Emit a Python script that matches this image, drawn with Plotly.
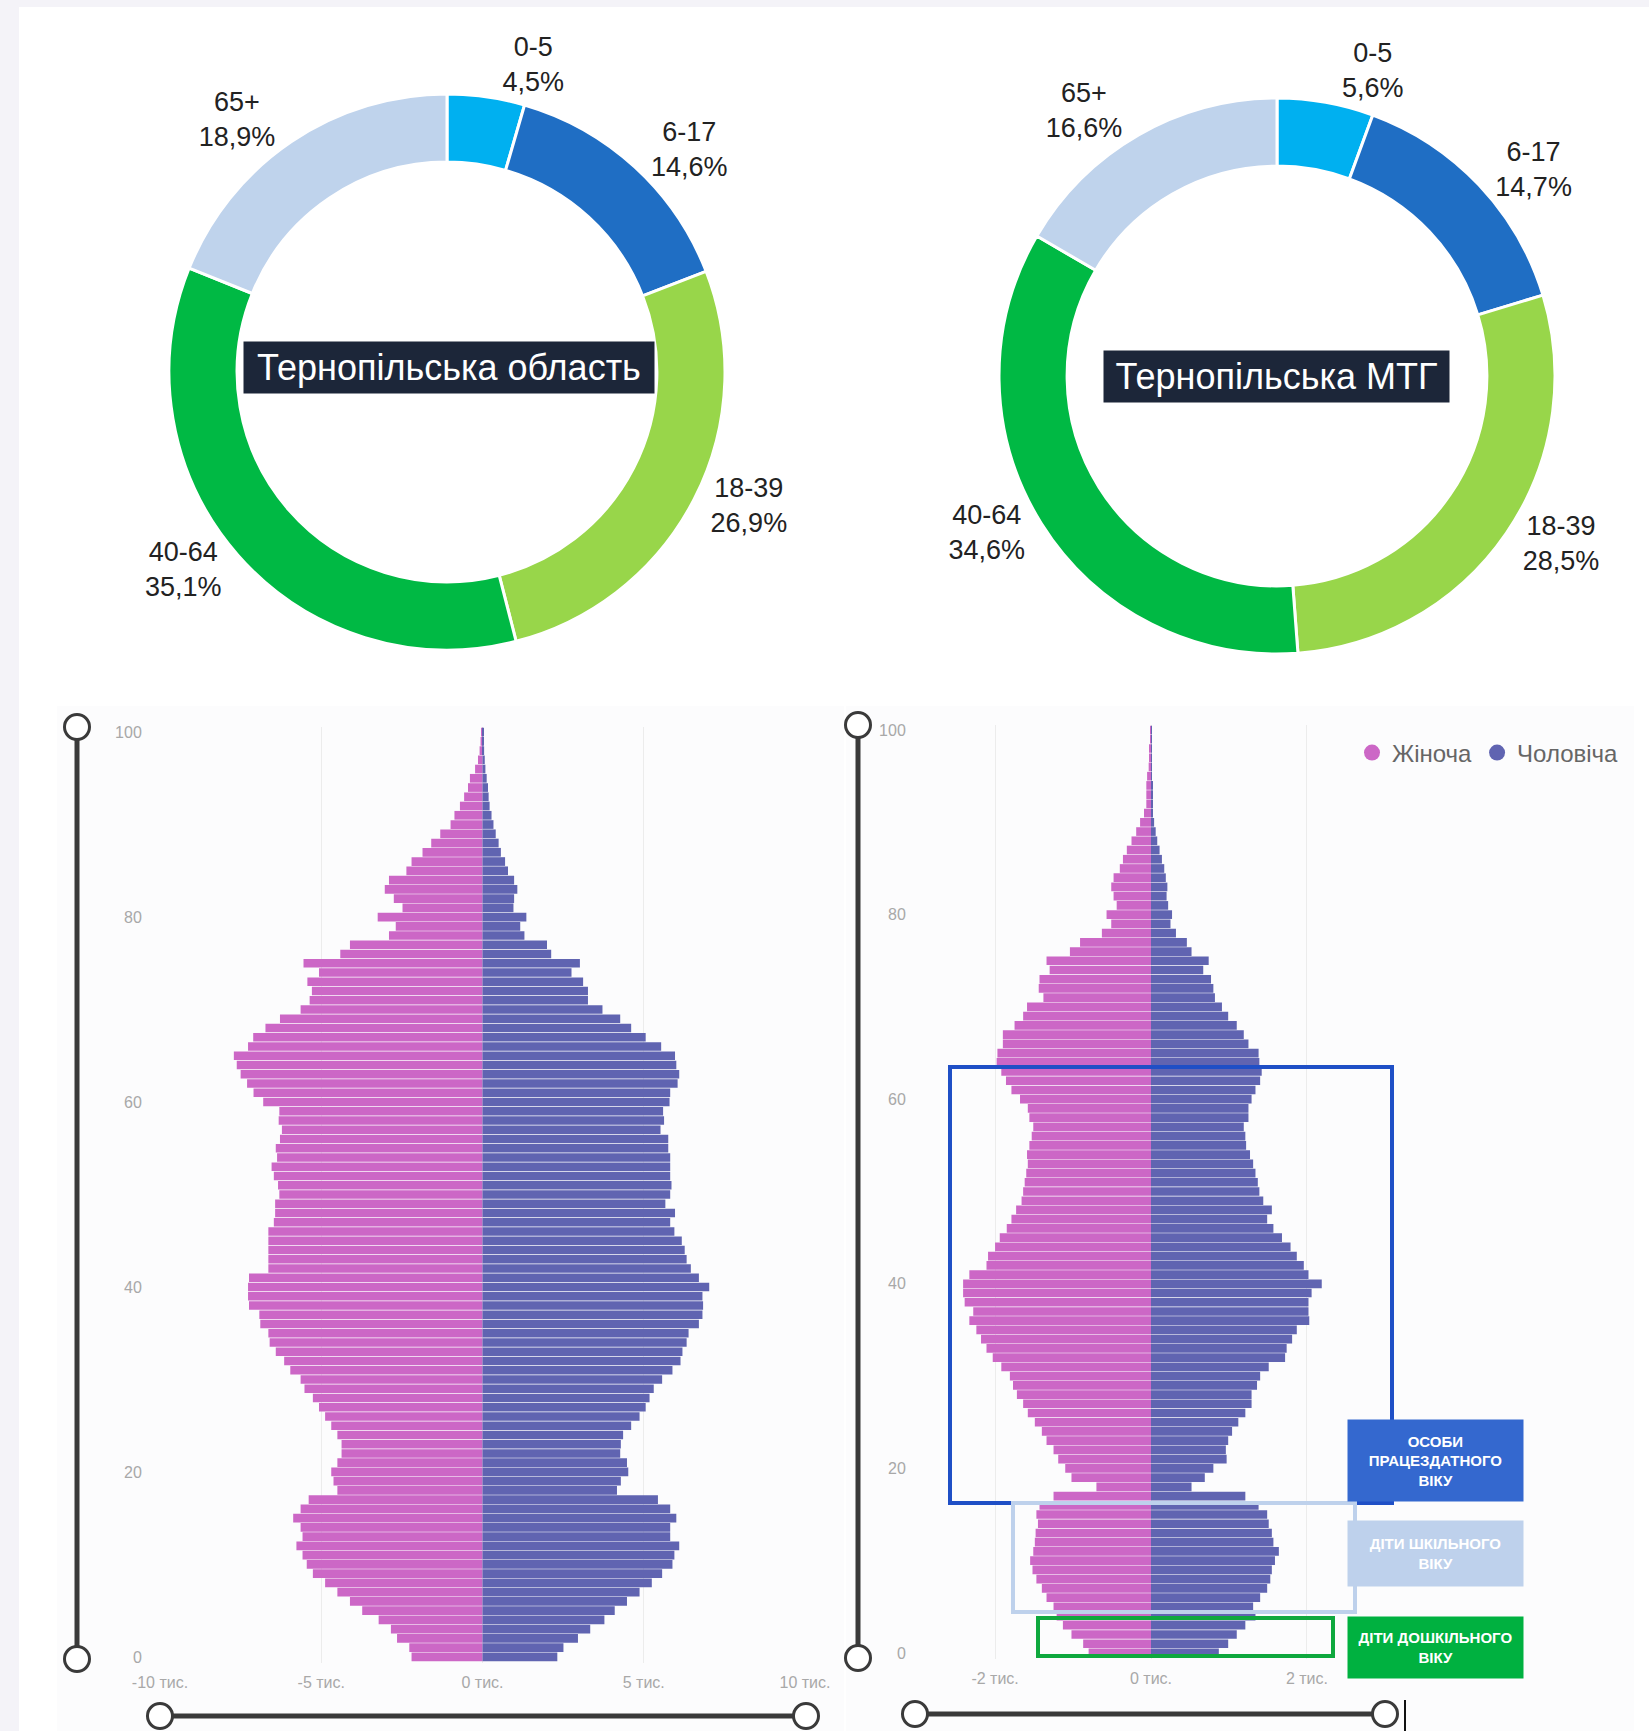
import plotly.graph_objects as go

W, H = 1649, 1731

# ---------------- data ----------------
age_groups = ["0-5", "6-17", "18-39", "40-64", "65+"]
oblast_share = [4.5, 14.6, 26.9, 35.1, 18.9]
mtg_share = [5.6, 14.7, 28.5, 34.6, 16.6]
group_colors = ["#00b0f0", "#1f6ec4", "#98d64a", "#00b944", "#bfd3ec"]
oblast_title = "Тернопільська область"
mtg_title = "Тернопільська МТГ"

ages = list(range(0, 101))

# Тернопільська область, thousands of persons by single year of age (0..100)
oblast_female = [
    2.20, 2.27, 2.65, 2.84, 3.22, 3.73, 4.11, 4.50, 4.88, 5.26,
    5.45, 5.58, 5.77, 5.58, 5.64, 5.87, 5.64, 5.39, 4.50, 4.62,
    4.69, 4.50, 4.37, 4.37, 4.50, 4.69, 4.88, 5.07, 5.26, 5.52,
    5.64, 5.96, 6.15, 6.41, 6.60, 6.64, 6.89, 6.92, 7.24, 7.27,
    7.27, 7.24, 6.64, 6.64, 6.64, 6.64, 6.64, 6.47, 6.43, 6.43,
    6.30, 6.34, 6.47, 6.54, 6.37, 6.41, 6.28, 6.22, 6.32, 6.30,
    6.80, 7.10, 7.30, 7.50, 7.62, 7.71, 7.27, 7.11, 6.73, 6.28,
    5.64, 5.36, 5.29, 5.43, 5.07, 5.55, 4.41, 4.11, 2.90, 2.69,
    3.25, 2.48, 2.75, 3.03, 2.90, 2.36, 2.20, 1.86, 1.59, 1.31,
    0.99, 0.87, 0.70, 0.57, 0.45, 0.39, 0.23, 0.14, 0.09, 0.06,
    0.04,
]
oblast_male = [
    2.32, 2.51, 2.96, 3.34, 3.78, 4.10, 4.48, 4.87, 5.25, 5.57,
    5.89, 5.95, 6.10, 5.82, 5.82, 6.01, 5.82, 5.44, 4.17, 4.29,
    4.52, 4.48, 4.27, 4.29, 4.36, 4.61, 4.87, 5.06, 5.18, 5.31,
    5.57, 5.89, 6.14, 6.20, 6.33, 6.39, 6.71, 6.82, 6.84, 6.82,
    7.03, 6.71, 6.46, 6.33, 6.27, 6.18, 5.95, 5.82, 5.97, 5.67,
    5.82, 5.86, 5.82, 5.82, 5.82, 5.76, 5.76, 5.52, 5.63, 5.60,
    5.80, 5.82, 6.05, 6.10, 6.01, 5.97, 5.54, 5.06, 4.61, 4.27,
    3.72, 3.27, 3.27, 3.12, 2.76, 3.02, 2.13, 2.00, 1.30, 1.17,
    1.36, 0.96, 0.98, 1.08, 0.98, 0.79, 0.70, 0.57, 0.50, 0.41,
    0.34, 0.28, 0.22, 0.19, 0.17, 0.13, 0.09, 0.07, 0.05, 0.04,
    0.03,
]

# Тернопільська МТГ, thousands of persons by single year of age (0..100)
mtg_female = [
    0.80, 0.87, 1.02, 1.13, 1.21, 1.25, 1.34, 1.40, 1.47, 1.52,
    1.55, 1.51, 1.49, 1.48, 1.45, 1.47, 1.43, 1.25, 0.70, 1.02,
    1.10, 1.19, 1.25, 1.34, 1.40, 1.49, 1.58, 1.64, 1.72, 1.77,
    1.81, 1.92, 2.03, 2.11, 2.18, 2.24, 2.33, 2.28, 2.39, 2.41,
    2.41, 2.33, 2.11, 2.09, 2.00, 1.94, 1.85, 1.79, 1.73, 1.66,
    1.64, 1.62, 1.60, 1.58, 1.59, 1.56, 1.53, 1.51, 1.56, 1.58,
    1.68, 1.79, 1.86, 1.92, 1.98, 1.97, 1.90, 1.90, 1.75, 1.64,
    1.59, 1.38, 1.44, 1.43, 1.30, 1.34, 1.04, 0.91, 0.63, 0.51,
    0.57, 0.44, 0.48, 0.51, 0.48, 0.40, 0.36, 0.31, 0.25, 0.19,
    0.14, 0.09, 0.06, 0.06, 0.06, 0.05, 0.03, 0.02, 0.02, 0.01,
    0.01,
]
mtg_male = [
    0.87, 0.99, 1.10, 1.21, 1.34, 1.31, 1.40, 1.49, 1.53, 1.55,
    1.59, 1.64, 1.57, 1.55, 1.51, 1.49, 1.38, 1.21, 0.52, 0.69,
    0.80, 0.97, 0.96, 0.99, 1.04, 1.12, 1.21, 1.29, 1.29, 1.36,
    1.40, 1.51, 1.72, 1.74, 1.81, 1.87, 2.03, 2.02, 2.02, 2.06,
    2.19, 2.02, 1.96, 1.87, 1.79, 1.68, 1.57, 1.49, 1.55, 1.44,
    1.39, 1.37, 1.34, 1.31, 1.27, 1.22, 1.21, 1.19, 1.25, 1.25,
    1.29, 1.34, 1.40, 1.42, 1.39, 1.38, 1.25, 1.19, 1.10, 0.99,
    0.91, 0.82, 0.80, 0.77, 0.67, 0.74, 0.52, 0.46, 0.32, 0.25,
    0.27, 0.22, 0.20, 0.21, 0.19, 0.17, 0.14, 0.11, 0.08, 0.06,
    0.04, 0.02, 0.02, 0.02, 0.02, 0.01, 0.01, 0.01, 0.01, 0.01,
    0.01,
]

female_name = "Жіноча"
male_name = "Чоловіча"
female_color = "#cc67c6"
male_color = "#6064b1"

oblast_xticks = [-10, -5, 0, 5, 10]
mtg_xticks = [-2, 0, 2]
age_ticks = [0, 20, 40, 60, 80, 100]

group_box_labels = ["ОСОБИ<br>ПРАЦЕЗДАТНОГО<br>ВІКУ", "ДІТИ ШКІЛЬНОГО<br>ВІКУ", "ДІТИ ДОШКІЛЬНОГО<br>ВІКУ"]
group_box_colors = ["#3468cf", "#bed1ec", "#00b140"]
group_frame_colors = ["#1f4fc6", "#bed1ec", "#0fa83e"]

FONT = "Liberation Sans, Arial, sans-serif"
PAGE_BG = "#f4f3f8"


def px(x):
    return x / W


def py(y):
    return 1 - y / H


def fmt_pct(v):
    return f"{v:.1f}".replace(".", ",") + "%"


def tick_k(v):
    return f"{v} тис."


fig = go.Figure()

# ---------------- donuts ----------------
R = 278
for share, cx, cy in [(oblast_share, 447, 372), (mtg_share, 1277, 376)]:
    fig.add_trace(go.Pie(
        labels=age_groups,
        values=share,
        text=[fmt_pct(v) for v in share],
        texttemplate="%{label}<br>%{text}",
        textposition="outside",
        outsidetextfont=dict(family=FONT, size=27, color="#222222"),
        hole=0.755,
        sort=False,
        direction="clockwise",
        rotation=0,
        marker=dict(colors=group_colors, line=dict(color="white", width=3)),
        domain=dict(x=[px(cx - R), px(cx + R)], y=[py(cy + R), py(cy - R)]),
        showlegend=False,
        hoverinfo="label+percent",
    ))

# ---------------- pyramids ----------------
fig.add_trace(go.Bar(y=ages, x=[-v for v in oblast_female], orientation="h", name=female_name,
                     marker=dict(color=female_color, line=dict(width=0)), showlegend=False,
                     xaxis="x", yaxis="y"))
fig.add_trace(go.Bar(y=ages, x=oblast_male, orientation="h", name=male_name,
                     marker=dict(color=male_color, line=dict(width=0)), showlegend=False,
                     xaxis="x", yaxis="y"))
fig.add_trace(go.Bar(y=ages, x=[-v for v in mtg_female], orientation="h", name=female_name,
                     marker=dict(color=female_color, line=dict(width=0)), showlegend=False,
                     xaxis="x2", yaxis="y2"))
fig.add_trace(go.Bar(y=ages, x=mtg_male, orientation="h", name=male_name,
                     marker=dict(color=male_color, line=dict(width=0)), showlegend=False,
                     xaxis="x2", yaxis="y2"))

# legend entries (circle markers)
for name, col in [(female_name, female_color), (male_name, male_color)]:
    fig.add_trace(go.Scatter(x=[None], y=[None], mode="markers", name=name,
                             marker=dict(symbol="circle", size=17, color=col),
                             xaxis="x2", yaxis="y2", showlegend=True))

tick_font = dict(family=FONT, size=16, color="#a8a8a8")
axis_common = dict(showline=False, zeroline=False, fixedrange=True, automargin=False)

fig.update_layout(
    width=W, height=H,
    margin=dict(l=0, r=0, t=0, b=0, pad=0, autoexpand=False),
    paper_bgcolor=PAGE_BG,
    plot_bgcolor="rgba(0,0,0,0)",
    font=dict(family=FONT),
    barmode="overlay",
    bargap=0.06,
    xaxis=dict(domain=[px(160), px(805)], range=[-10, 10], tickvals=oblast_xticks,
               ticktext=[tick_k(v) for v in oblast_xticks], showgrid=True, gridcolor="#ececec",
               ticks="outside", ticklen=5, tickcolor="rgba(0,0,0,0)", tickfont=tick_font,
               anchor="y", **axis_common),
    yaxis=dict(domain=[py(1662.5), py(726.5)], range=[-0.6, 100.6], tickvals=age_ticks,
               showgrid=False, ticks="outside", ticklen=14, tickcolor="rgba(0,0,0,0)",
               tickfont=tick_font, anchor="x", **axis_common),
    xaxis2=dict(domain=[px(921), px(1381)], range=[-2.95, 2.95], tickvals=mtg_xticks,
                ticktext=[tick_k(v) for v in mtg_xticks], showgrid=True, gridcolor="#ececec",
                ticks="outside", ticklen=5, tickcolor="rgba(0,0,0,0)", tickfont=tick_font,
                anchor="y2", **axis_common),
    yaxis2=dict(domain=[py(1658.5), py(724.5)], range=[-0.6, 100.6], tickvals=age_ticks,
                showgrid=False, ticks="outside", ticklen=11, tickcolor="rgba(0,0,0,0)",
                tickfont=tick_font, anchor="x2", **axis_common),
    legend=dict(orientation="h", x=px(1624), xanchor="right", y=py(753), yanchor="middle",
                font=dict(family=FONT, size=24, color="#666666"), bgcolor="rgba(0,0,0,0)",
                itemwidth=30, tracegroupgap=0),
)

shapes = []
# white card and pyramid panels
shapes.append(dict(type="rect", xref="paper", yref="paper", x0=px(19), x1=1, y0=0, y1=py(7),
                   fillcolor="white", line=dict(width=0), layer="below"))
for x0, x1 in [(57, 844), (846, 1634)]:
    shapes.append(dict(type="rect", xref="paper", yref="paper", x0=px(x0), x1=px(x1), y0=0, y1=py(706),
                       fillcolor="#fcfcfd", line=dict(width=0), layer="below"))

# group frames on the MTG pyramid (pixel frames)
frames = [
    (950, 1392, 1067, 1503, 4),
    (1013, 1355, 1503, 1612, 4),
    (1038, 1333, 1618, 1656, 4),
]
for (x0, x1, y0, y1, lw), col in zip(frames, group_frame_colors):
    shapes.append(dict(type="rect", xref="paper", yref="paper", x0=px(x0), x1=px(x1),
                       y0=py(y1), y1=py(y0), line=dict(color=col, width=lw),
                       fillcolor="rgba(0,0,0,0)", layer="above"))

# decorative range sliders
slider_col = "#3a3a3a"


def slider(xa, ya, xb, yb):
    shapes.append(dict(type="line", xref="paper", yref="paper", x0=px(xa), y0=py(ya), x1=px(xb), y1=py(yb),
                       line=dict(color=slider_col, width=5), layer="above"))
    for (cx, cy) in [(xa, ya), (xb, yb)]:
        r = 12.5
        shapes.append(dict(type="circle", xref="paper", yref="paper", x0=px(cx - r), x1=px(cx + r),
                           y0=py(cy + r), y1=py(cy - r), fillcolor="white",
                           line=dict(color=slider_col, width=3), layer="above"))


slider(77, 727, 77, 1659)
slider(160, 1716, 806, 1716)
slider(858, 725, 858, 1658)
slider(915, 1714, 1385, 1714)
shapes.append(dict(type="line", xref="paper", yref="paper", x0=px(1405), x1=px(1405), y0=py(1731), y1=py(1700),
                   line=dict(color="#111111", width=2), layer="above"))

fig.update_layout(shapes=shapes)

annotations = []
# donut centre titles
for title, cx, cy, w in [(oblast_title, 449, 367, 408), (mtg_title, 1276, 376, 343)]:
    annotations.append(dict(text=title, x=px(cx), y=py(cy), xref="paper", yref="paper",
                            showarrow=False, xanchor="center", yanchor="middle",
                            font=dict(family=FONT, size=36, color="white"),
                            bgcolor="#1c2639", width=w, height=49, borderpad=1))

# group label boxes
boxes = [(1460.5, 81), (1553.5, 65), (1647.5, 61)]
for (cy, h), txt, col in zip(boxes, group_box_labels, group_box_colors):
    annotations.append(dict(text="<b>" + txt + "</b>", x=px(1435.5), y=py(cy), xref="paper", yref="paper",
                            showarrow=False, xanchor="center", yanchor="middle",
                            font=dict(family=FONT, size=15, color="white"),
                            bgcolor=col, width=175, height=h, borderpad=0, align="center"))

fig.update_layout(annotations=annotations)

fig.write_html(
    "out.html",
    config={"displayModeBar": False},
    post_script=(
        "document.documentElement.style.margin='0';"
        "document.body.style.margin='0';"
        "document.body.style.overflow='hidden';"
        "document.body.style.background='" + PAGE_BG + "';"
    ),
)
